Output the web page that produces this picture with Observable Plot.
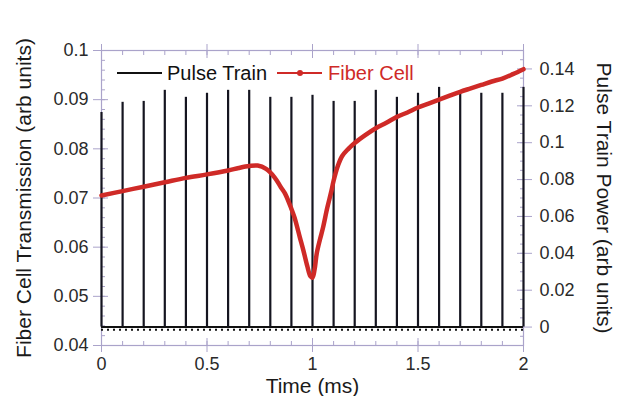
<!DOCTYPE html>
<html>
<head>
<meta charset="utf-8">
<script src="https://cdn.jsdelivr.net/npm/d3@7"></script>
<script src="https://cdn.jsdelivr.net/npm/@observablehq/plot@0.6"></script>
<style>
  html, body { margin: 0; padding: 0; background: white; }
  #wrap { position: relative; width: 617px; height: 396px; }
  #legend { position: absolute; left: 117px; top: 61px; height: 24px; display: flex; align-items: center;
            font-family: "Liberation Sans", Arial, sans-serif; font-size: 20px; white-space: nowrap; }
  .sw { position: relative; width: 45px; height: 2px; }
  .dot { position: absolute; left: 20px; top: -2px; width: 6px; height: 6px; border-radius: 3px; }
</style>
</head>
<body>
<div id="wrap">
  <div id="chart"></div>
  <div id="legend">
    <span class="sw" style="background:#111"></span>
    <span style="margin-left:5px;color:#111">Pulse Train</span>
    <span class="sw" style="background:#cf2a27;margin-left:10px;height:1.5px"><span class="dot" style="background:#cf2a27"></span></span>
    <span style="margin-left:6px;color:#cf2a27">Fiber Cell</span>
  </div>
</div>
<script>
// ---- data ----
const timeTicks = [0, 0.5, 1, 1.5, 2];
const timeTickLabels = ["0", "0.5", "1", "1.5", "2"];
const leftTicks = [0.04, 0.05, 0.06, 0.07, 0.08, 0.09, 0.1];
const leftTickLabels = ["0.04", "0.05", "0.06", "0.07", "0.08", "0.09", "0.1"];
const rightTicks = [0, 0.02, 0.04, 0.06, 0.08, 0.1, 0.12, 0.14];
const rightTickLabels = ["0", "0.02", "0.04", "0.06", "0.08", "0.1", "0.12", "0.14"];

const pulseTimes = [0, 0.1, 0.2, 0.3, 0.4, 0.5, 0.6, 0.7, 0.8, 0.9, 1.0,
                    1.1, 1.2, 1.3, 1.4, 1.5, 1.6, 1.7, 1.8, 1.9, 2.0];
const pulsePeaks = [0.1164, 0.1219, 0.1224, 0.1284, 0.1246, 0.1268, 0.1284, 0.1284, 0.1246, 0.1246, 0.1257,
                    0.1224, 0.1224, 0.1284, 0.1246, 0.1268, 0.1300, 0.1273, 0.1268, 0.1268, 0.1300];

const fiberTime = [0.00, 0.10, 0.20, 0.30, 0.40, 0.50, 0.60, 0.65, 0.70, 0.74, 0.78, 0.82, 0.85, 0.87,
                   0.90, 0.915, 0.94, 0.957, 0.975, 0.99, 1.00, 1.01, 1.02, 1.035, 1.05, 1.07, 1.09,
                   1.10, 1.12, 1.14, 1.17, 1.20, 1.25, 1.30, 1.35, 1.40, 1.45, 1.50, 1.55, 1.60, 1.65,
                   1.70, 1.75, 1.80, 1.85, 1.90, 1.95, 2.00];
const fiberValue = [0.0705, 0.0714, 0.0723, 0.0732, 0.0741, 0.0748, 0.0756, 0.0761, 0.0765, 0.0766, 0.0759,
                    0.0742, 0.0722, 0.0709, 0.0678, 0.0660, 0.0620, 0.0593, 0.0562, 0.0541, 0.0538, 0.0555,
                    0.0587, 0.0615, 0.0640, 0.0680, 0.0715, 0.0735, 0.0765, 0.0785, 0.0800, 0.0812, 0.0828,
                    0.0842, 0.0853, 0.0865, 0.0874, 0.0884, 0.0892, 0.0900, 0.0908, 0.0916, 0.0923, 0.0930,
                    0.0937, 0.0943, 0.0952, 0.0962];

// ---- scales ----
const leftDomain = [0.04, 0.1];
const rightDomain = [-0.01, 0.15];
const toLeft = v => leftDomain[0] + (v - rightDomain[0]) * (leftDomain[1] - leftDomain[0]) / (rightDomain[1] - rightDomain[0]);

const pulses = pulseTimes.map((t, i) => ({t, peak: toLeft(pulsePeaks[i])}));
const fiber = fiberTime.map((t, i) => ({t, v: fiberValue[i]}));
const rightTicksL = rightTicks.map(toLeft);

const lav = "#aaa3ca";
const red = "#cf2a27";
const font = "'Liberation Sans', Arial, Helvetica, sans-serif";

const chart = Plot.plot({
  width: 617, height: 396,
  marginLeft: 101, marginRight: 94, marginTop: 50, marginBottom: 51,
  style: {fontFamily: font, fontSize: "18px", color: "#2a2a2a", background: "white"},
  x: {domain: [0, 2]},
  y: {domain: leftDomain},
  marks: [
    Plot.frame({stroke: lav, strokeWidth: 1.2}),
    // bottom axis
    Plot.axisX(timeTicks, {anchor: "bottom", tickSize: 7, fill: "none", stroke: lav}),
    Plot.axisX(timeTicks, {anchor: "bottom", tickSize: -7, fill: "none", stroke: lav}),
    Plot.axisX(d3.range(0, 2.001, 0.1), {anchor: "bottom", tickSize: -4, fill: "none", stroke: lav}),
    Plot.axisX(timeTicks, {anchor: "bottom", tickSize: 0, tickPadding: 12, label: null,
      tickFormat: d => timeTickLabels[timeTicks.indexOf(d)]}),
    // top axis
    Plot.axisX(timeTicks, {anchor: "top", tickSize: 7, fill: "none", stroke: lav}),
    Plot.axisX(timeTicks, {anchor: "top", tickSize: -7, fill: "none", stroke: lav}),
    Plot.axisX(d3.range(0, 2.001, 0.1), {anchor: "top", tickSize: -4, fill: "none", stroke: lav}),
    // left axis
    Plot.axisY(leftTicks, {anchor: "left", tickSize: 8, fill: "none", stroke: lav}),
    Plot.axisY(leftTicks, {anchor: "left", tickSize: -7, fill: "none", stroke: lav}),
    Plot.axisY(d3.range(0.04, 0.1001, 0.002), {anchor: "left", tickSize: -4, fill: "none", stroke: lav}),
    Plot.axisY(leftTicks, {anchor: "left", tickSize: 0, tickPadding: 13, label: null,
      tickFormat: d => leftTickLabels[leftTicks.indexOf(d)]}),
    // right axis
    Plot.axisY(rightTicksL, {anchor: "right", tickSize: 8, fill: "none", stroke: lav}),
    Plot.axisY(rightTicksL, {anchor: "right", tickSize: -7, fill: "none", stroke: lav}),
    Plot.axisY(d3.range(-0.01, 0.1501, 0.005).map(toLeft), {anchor: "right", tickSize: -4, fill: "none", stroke: lav}),
    Plot.axisY(rightTicksL, {anchor: "right", tickSize: 0, tickPadding: 16, label: null,
      tickFormat: d => rightTickLabels[rightTicksL.indexOf(d)]}),
    // pulse train
    Plot.ruleY([toLeft(-0.0015)], {x1: 0, x2: 2, stroke: "#111", strokeWidth: 2, strokeDasharray: "2,4"}),
    Plot.ruleY([toLeft(0)], {x1: 0, x2: 2, stroke: "#111", strokeWidth: 2}),
    Plot.ruleX(pulses, {x: "t", y1: toLeft(0), y2: "peak", stroke: "#151520", strokeWidth: 2.2}),
    // fiber cell
    Plot.line(fiber, {x: "t", y: "v", stroke: red, strokeWidth: 4.5, curve: "catmull-rom"}),
    // axis titles
    Plot.text(["Fiber Cell Transmission (arb units)"], {frameAnchor: "left", rotate: -90, dx: -77,
      textAnchor: "middle", lineAnchor: "middle", fontSize: 21, fill: "#1a1a1a"}),
    Plot.text(["Pulse Train Power (arb units)"], {frameAnchor: "right", rotate: 90, dx: 80,
      textAnchor: "middle", lineAnchor: "middle", fontSize: 21, fill: "#1a1a1a"}),
    Plot.text(["Time (ms)"], {frameAnchor: "bottom", dy: 41, textAnchor: "middle", lineAnchor: "middle",
      fontSize: 21, fill: "#1a1a1a"})
  ]
});
document.getElementById("chart").appendChild(chart);
</script>
</body>
</html>
